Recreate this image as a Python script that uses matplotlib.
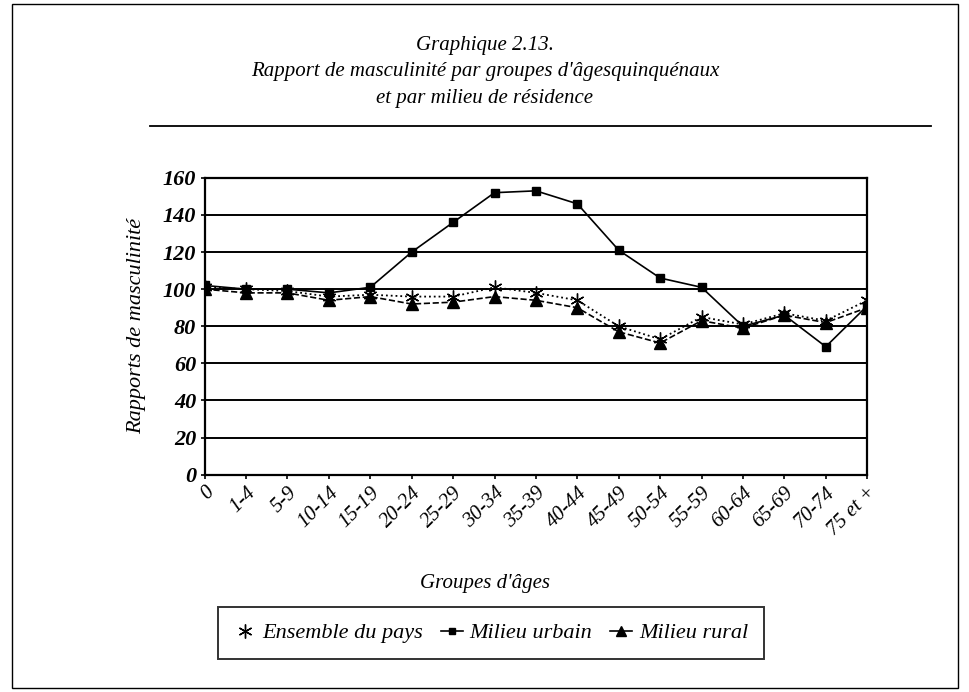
import matplotlib.pyplot as plt
import numpy as np
from matplotlib.patches import Rectangle
from matplotlib.lines import Line2D

plt.rcParams['font.family'] = ['Liberation Serif', 'DejaVu Serif']

# Age groups and sex ratios
age_groups = ['0', '1-4', '5-9', '10-14', '15-19', '20-24', '25-29', '30-34',
              '35-39', '40-44', '45-49', '50-54', '55-59', '60-64', '65-69',
              '70-74', '75 et +']
ensemble = [101, 100, 99, 96, 97, 96, 96, 101, 98, 94, 80, 73, 85, 81, 87, 83, 94]
urbain = [102, 100, 100, 98, 101, 120, 136, 152, 153, 146, 121, 106, 101, 80, 86, 69, 91]
rural = [100, 98, 98, 94, 96, 92, 93, 96, 94, 90, 77, 71, 83, 79, 86, 82, 90]
y_ticks = [0, 20, 40, 60, 80, 100, 120, 140, 160]

fig = plt.figure(figsize=(9.7, 6.92), dpi=100)
ax = fig.add_axes([0.211, 0.314, 0.683, 0.429])

x = np.arange(len(age_groups))
ax.plot(x, urbain, color='black', linestyle='-', linewidth=1.2,
        marker='s', markersize=6, label='Milieu urbain', zorder=3)
ax.plot(x, ensemble, color='black', linestyle=':', linewidth=1.3,
        marker=(6, 2, 0), markersize=10, markeredgewidth=1.0,
        label='Ensemble du pays', zorder=4)
ax.plot(x, rural, color='black', linestyle='--', linewidth=1.2,
        marker='^', markersize=8, label='Milieu rural', zorder=5)

ax.set_xlim(0, len(age_groups) - 1)
ax.set_ylim(0, 160)
ax.set_yticks(y_ticks)
ax.set_yticklabels([str(v) for v in y_ticks], fontsize=16,
                   fontstyle='italic', fontweight='bold')
ax.set_xticks(x)
ax.set_xticklabels(age_groups, fontsize=15, fontstyle='italic',
                   rotation=45, ha='right', rotation_mode='anchor')
ax.tick_params(axis='both', length=3, width=1.2, direction='out', pad=3)
ax.yaxis.grid(True, color='black', linewidth=1.4)
ax.set_axisbelow(True)
for s in ax.spines.values():
    s.set_linewidth(1.6)

ax.set_ylabel('Rapports de masculinité', fontsize=16, fontstyle='italic',
              labelpad=12)
fig.text(0.5, 0.157, "Groupes d'âges", ha='center', va='center',
         fontsize=15, fontstyle='italic')

# Title and separating rule
fig.text(0.5, 0.896, 'Graphique 2.13.\nRapport de masculinité par groupes '
         "d'âgesquinquénaux\net par milieu de résidence",
         ha='center', va='center', fontsize=15, fontstyle='italic',
         linespacing=1.55)
fig.add_artist(Line2D([0.155, 0.96], [0.818, 0.818], color='black',
                      linewidth=1.3, transform=fig.transFigure))

# Page border
fig.add_artist(Rectangle((0.012, 0.006), 0.976, 0.988, fill=False,
                         edgecolor='black', linewidth=1.0,
                         transform=fig.transFigure))

handles = [
    Line2D([], [], color='black', marker=(6, 2, 0), markersize=10, linestyle='none'),
    Line2D([], [], color='black', marker='s', markersize=5, linestyle='-', linewidth=1.2),
    Line2D([], [], color='black', marker='^', markersize=7, linestyle='-', linewidth=1.2),
]
leg = fig.legend(handles, ['Ensemble du pays', 'Milieu urbain', 'Milieu rural'],
                 loc='center', bbox_to_anchor=(0.506, 0.085), ncol=3,
                 frameon=True, fancybox=False, edgecolor='black',
                 prop={'style': 'italic', 'size': 16}, handlelength=1.0,
                 handletextpad=0.3, columnspacing=0.8, borderpad=0.7)
leg.get_frame().set_linewidth(1.4)

fig.savefig('out.png', dpi=100)
